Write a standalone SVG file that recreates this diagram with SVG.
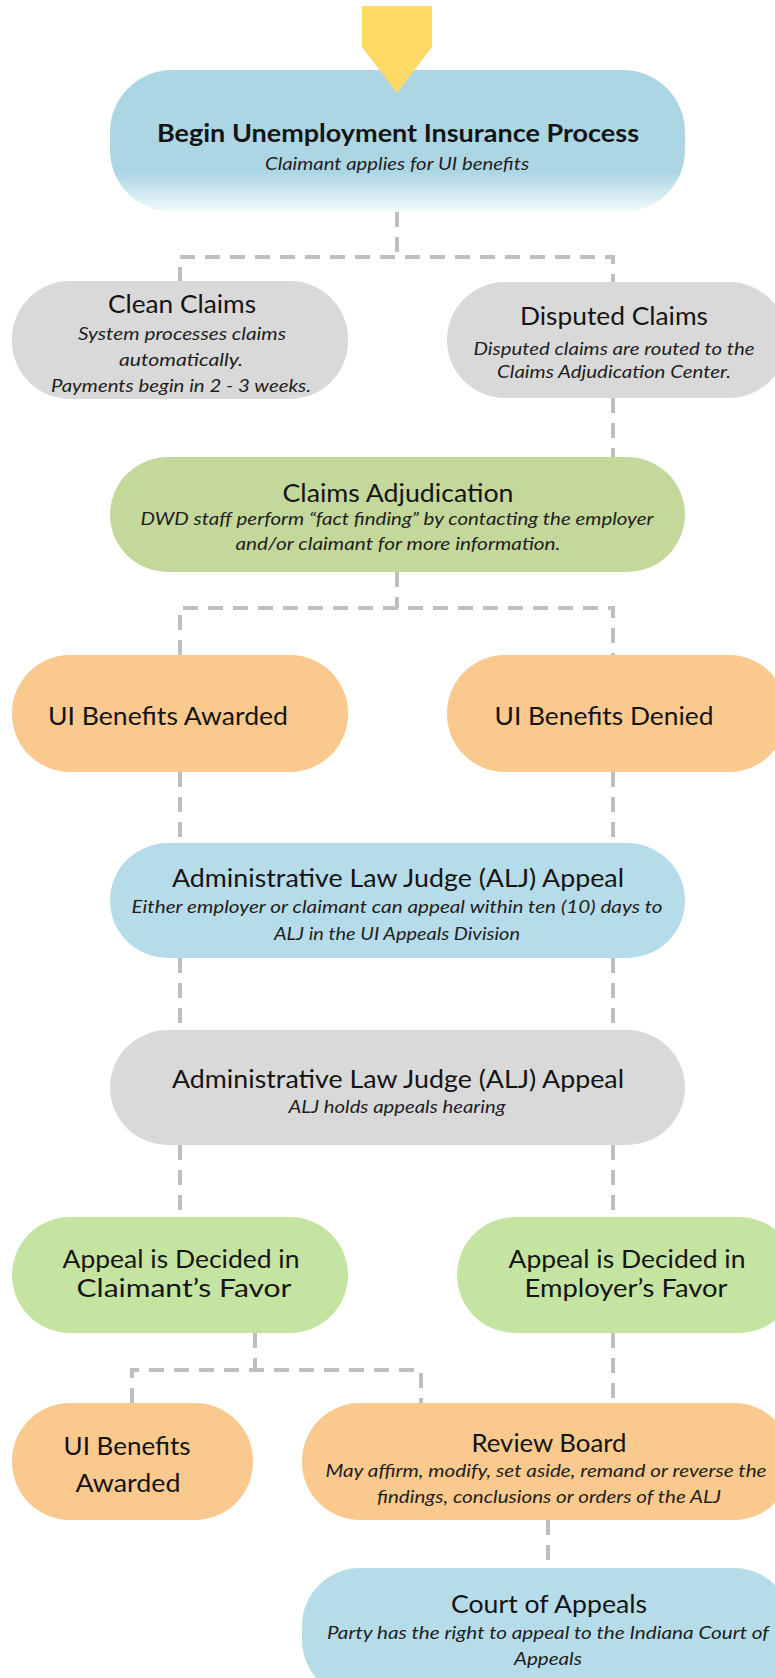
<svg xmlns="http://www.w3.org/2000/svg" width="775" height="1678" viewBox="0 0 775 1678">
<defs>
<linearGradient id="fade" x1="0" y1="0" x2="0" y2="1">
<stop offset="0" stop-color="#ACD6E4"/>
<stop offset="0.72" stop-color="#ACD6E4"/>
<stop offset="1" stop-color="#F4FAFC"/>
</linearGradient>
<style>
.conn{fill:none;stroke:#BFBFBF;stroke-width:4;stroke-dasharray:15 10}
.blue{fill:#B5DCE8}
.gray{fill:#D9D9D9}
.olive{fill:#C4D89C}
.green{fill:#C6E4A1}
.orange{fill:#F9C98E}
text{font-family:"Lato","Open Sans","Liberation Sans",sans-serif;fill:#141414;text-anchor:middle}
.t{font-size:25px}
.tb{font-size:24px;font-weight:bold}
.s{font-size:17px;font-style:italic;fill:#1e1e1e}
</style>
</defs>
<rect width="775" height="1678" fill="#FFFFFF"/>
<g id="connectors">
<path class="conn" d="M397 212 V257"/>
<path class="conn" d="M180 282 V257 H613 V282"/>
<path class="conn" d="M613 398 V457"/>
<path class="conn" d="M397 572 V608"/>
<path class="conn" d="M180 655 V608 H613 V655"/>
<path class="conn" d="M180 772 V843"/>
<path class="conn" d="M613 772 V843"/>
<path class="conn" d="M180 958 V1030"/>
<path class="conn" d="M613 958 V1030"/>
<path class="conn" d="M180 1145 V1217"/>
<path class="conn" d="M613 1145 V1217"/>
<path class="conn" d="M255 1333 V1370"/>
<path class="conn" d="M132 1403 V1370 H421 V1403"/>
<path class="conn" d="M613 1333 V1403"/>
<path class="conn" d="M548 1520 V1568"/>
</g>
<g id="n-begin">
<rect x="110" y="70" width="575" height="142" rx="62" fill="url(#fade)"/>
<text class="tb" x="398" y="142" textLength="482" lengthAdjust="spacingAndGlyphs">Begin Unemployment Insurance Process</text>
<text class="s" x="397" y="170" textLength="264" lengthAdjust="spacingAndGlyphs">Claimant applies for UI benefits</text>
</g>
<g id="n-start">
<polygon points="362,6 432,6 432,47 397,93 362,47" fill="#FFD966"/>
</g>
<g id="n-clean">
<rect class="gray" x="12" y="281" width="336" height="118" rx="58"/>
<text class="t" x="182" y="313" textLength="148" lengthAdjust="spacingAndGlyphs">Clean Claims</text>
<text class="s" x="182" y="340" textLength="208" lengthAdjust="spacingAndGlyphs">System processes claims</text>
<text class="s" x="181" y="366" textLength="124" lengthAdjust="spacingAndGlyphs">automatically.</text>
<text class="s" x="181" y="392" textLength="260" lengthAdjust="spacingAndGlyphs">Payments begin in 2 - 3 weeks.</text>
</g>
<g id="n-disputed">
<rect class="gray" x="447" y="282" width="340" height="116" rx="58"/>
<text class="t" x="614" y="325" textLength="188" lengthAdjust="spacingAndGlyphs">Disputed Claims</text>
<text class="s" x="614" y="355" textLength="281" lengthAdjust="spacingAndGlyphs">Disputed claims are routed to the</text>
<text class="s" x="614" y="378" textLength="234" lengthAdjust="spacingAndGlyphs">Claims Adjudication Center.</text>
</g>
<g id="n-adjudication">
<rect class="olive" x="110" y="457" width="575" height="115" rx="58"/>
<text class="t" x="398" y="502" textLength="231" lengthAdjust="spacingAndGlyphs">Claims Adjudication</text>
<text class="s" x="397" y="525" textLength="513" lengthAdjust="spacingAndGlyphs">DWD staff perform “fact finding” by contacting the employer</text>
<text class="s" x="398" y="550" textLength="325" lengthAdjust="spacingAndGlyphs">and/or claimant for more information.</text>
</g>
<g id="n-awarded">
<rect class="orange" x="12" y="655" width="336" height="117" rx="58"/>
<text class="t" x="168" y="725" textLength="240" lengthAdjust="spacingAndGlyphs">UI Benefits Awarded</text>
</g>
<g id="n-denied">
<rect class="orange" x="447" y="655" width="340" height="117" rx="58"/>
<text class="t" x="604" y="725" textLength="219" lengthAdjust="spacingAndGlyphs">UI Benefits Denied</text>
</g>
<g id="n-alj-appeal">
<rect class="blue" x="110" y="843" width="575" height="115" rx="58"/>
<text class="t" x="398" y="887" textLength="452" lengthAdjust="spacingAndGlyphs">Administrative Law Judge (ALJ) Appeal</text>
<text class="s" x="397" y="913" textLength="531" lengthAdjust="spacingAndGlyphs">Either employer or claimant can appeal within ten (10) days to</text>
<text class="s" x="397" y="940" textLength="246" lengthAdjust="spacingAndGlyphs">ALJ in the UI Appeals Division</text>
</g>
<g id="n-alj-hearing">
<rect class="gray" x="110" y="1030" width="575" height="115" rx="58"/>
<text class="t" x="398" y="1088" textLength="452" lengthAdjust="spacingAndGlyphs">Administrative Law Judge (ALJ) Appeal</text>
<text class="s" x="397" y="1113" textLength="217" lengthAdjust="spacingAndGlyphs">ALJ holds appeals hearing</text>
</g>
<g id="n-claimant-favor">
<rect class="green" x="12" y="1217" width="336" height="116" rx="58"/>
<text class="t" x="181" y="1268" textLength="237" lengthAdjust="spacingAndGlyphs">Appeal is Decided in</text>
<text class="t" x="184" y="1297" textLength="215" lengthAdjust="spacingAndGlyphs">Claimant’s Favor</text>
</g>
<g id="n-employer-favor">
<rect class="green" x="457" y="1217" width="340" height="116" rx="58"/>
<text class="t" x="627" y="1268" textLength="237" lengthAdjust="spacingAndGlyphs">Appeal is Decided in</text>
<text class="t" x="626" y="1297" textLength="203" lengthAdjust="spacingAndGlyphs">Employer’s Favor</text>
</g>
<g id="n-awarded-final">
<rect class="orange" x="12" y="1403" width="241" height="117" rx="58"/>
<text class="t" x="127" y="1455" textLength="127" lengthAdjust="spacingAndGlyphs">UI Benefits</text>
<text class="t" x="128" y="1492" textLength="105" lengthAdjust="spacingAndGlyphs">Awarded</text>
</g>
<g id="n-review">
<rect class="orange" x="302" y="1403" width="490" height="117" rx="58"/>
<text class="t" x="549" y="1452" textLength="155" lengthAdjust="spacingAndGlyphs">Review Board</text>
<text class="s" x="546" y="1477" textLength="441" lengthAdjust="spacingAndGlyphs">May affirm, modify, set aside, remand or reverse the</text>
<text class="s" x="549" y="1503" textLength="344" lengthAdjust="spacingAndGlyphs">findings, conclusions or orders of the ALJ</text>
</g>
<g id="n-court">
<rect class="blue" x="302" y="1568" width="490" height="130" rx="58"/>
<text class="t" x="549" y="1613" textLength="196" lengthAdjust="spacingAndGlyphs">Court of Appeals</text>
<text class="s" x="548" y="1639" textLength="442" lengthAdjust="spacingAndGlyphs">Party has the right to appeal to the Indiana Court of</text>
<text class="s" x="548" y="1665" textLength="68" lengthAdjust="spacingAndGlyphs">Appeals</text>
</g>
</svg>
